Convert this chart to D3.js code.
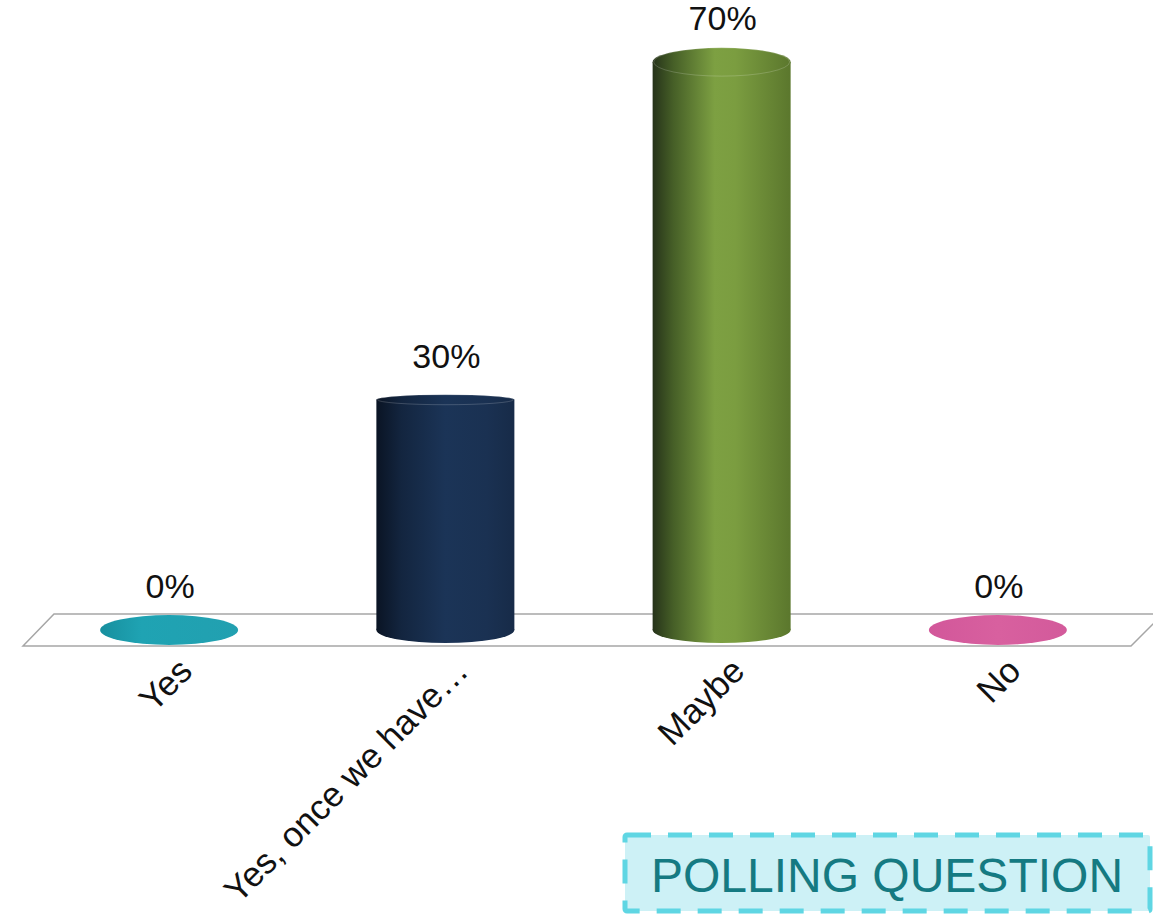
<!DOCTYPE html>
<html><head><meta charset="utf-8">
<script src="https://cdn.jsdelivr.net/npm/d3@7"></script>
<style>body{margin:0;background:#fff}svg{display:block}</style>
</head><body>
<script>
const categories = ["Yes", "Yes, once we have…", "Maybe", "No"];
const values = [0, 30, 70, 0];
const valueLabels = ["0%", "30%", "70%", "0%"];
const pollLabel = "POLLING QUESTION";

const W = 1153, H = 915;
const svg = d3.select("body").append("svg").attr("width", W).attr("height", H);
const defs = svg.append("defs");

const x = d3.scaleBand().domain(categories).range([31, 1136]);
const y = d3.scaleLinear().domain([0, 70]).range([653, 62]);
const floorY = 630;
const rx = 69;

const grads = [
  {id:"g0", stops:[["0%","#178f9e"],["30%","#1fa3b3"],["100%","#22a0b0"]]},
  {id:"g1", stops:[["0%","#0a1424"],["18%","#13253f"],["50%","#1b3457"],["80%","#1a3152"],["100%","#172b48"]]},
  {id:"g2", stops:[["0%","#26331a"],["15%","#465f27"],["45%","#7da042"],["60%","#7b9d40"],["100%","#5b772d"]]},
  {id:"g3", stops:[["0%","#d2579a"],["50%","#d8609f"],["100%","#d35a9b"]]}
];
grads.forEach(g => {
  const lg = defs.append("linearGradient").attr("id", g.id).attr("x1","0%").attr("x2","100%").attr("y1","0%").attr("y2","0%");
  g.stops.forEach(s => lg.append("stop").attr("offset", s[0]).attr("stop-color", s[1]));
});

const floor = [[23,646],[1131,646],[1163,614],[54,614]];
svg.append("path").attr("d", "M" + floor.map(p => p.join(",")).join("L") + "Z")
  .attr("fill","#fff").attr("stroke","#a6a6a6").attr("stroke-width",1.5);

const g = svg.append("g");
categories.forEach((c, i) => {
  const cx = x(c) + x.bandwidth() / 2;
  const v = values[i];
  const fill = `url(#g${i})`;
  if (v === 0) {
    g.append("ellipse").attr("cx", cx).attr("cy", floorY).attr("rx", rx).attr("ry", 15).attr("fill", fill);
  } else {
    const yt = y(v);
    const ryTop = 5 + (400 - yt) * 0.027;
    g.append("ellipse").attr("cx", cx).attr("cy", floorY).attr("rx", rx).attr("ry", 13).attr("fill", fill);
    g.append("rect").attr("x", cx - rx).attr("y", yt).attr("width", rx * 2).attr("height", floorY - yt).attr("fill", fill);
    g.append("ellipse").attr("cx", cx).attr("cy", yt).attr("rx", rx).attr("ry", ryTop).attr("fill", fill);
    g.append("ellipse").attr("cx", cx).attr("cy", yt).attr("rx", rx - 1).attr("ry", ryTop)
      .attr("fill", "none").attr("stroke", "rgba(255,255,255,0.18)").attr("stroke-width", 1);
  }
  const ly = Math.min(y(v), floorY) - 32;
  svg.append("text").attr("x", cx + 1).attr("y", ly).attr("text-anchor", "middle")
    .attr("font-family", "Liberation Sans, Arial, sans-serif").attr("font-size", 34).attr("fill", "#111")
    .text(valueLabels[i]);
  svg.append("text").attr("transform", `translate(${cx + 25},${673}) rotate(-45)`)
    .attr("text-anchor", "end")
    .attr("font-family", "Liberation Sans, Arial, sans-serif").attr("font-size", 35).attr("fill", "#111")
    .text(c);
});

const box = svg.append("g");
box.append("rect").attr("x", 625).attr("y", 835).attr("width", 525).attr("height", 76)
  .attr("fill", "#cdf1f6").attr("stroke", "#5fd6e3").attr("stroke-width", 5)
  .attr("stroke-dasharray", "24,17").attr("rx", 2);
box.append("text").attr("x", 887).attr("y", 892).attr("text-anchor", "middle")
  .attr("font-family", "Liberation Sans, Arial, sans-serif").attr("font-size", 48).attr("fill", "#157a82")
  .text(pollLabel);
</script>
</body></html>
